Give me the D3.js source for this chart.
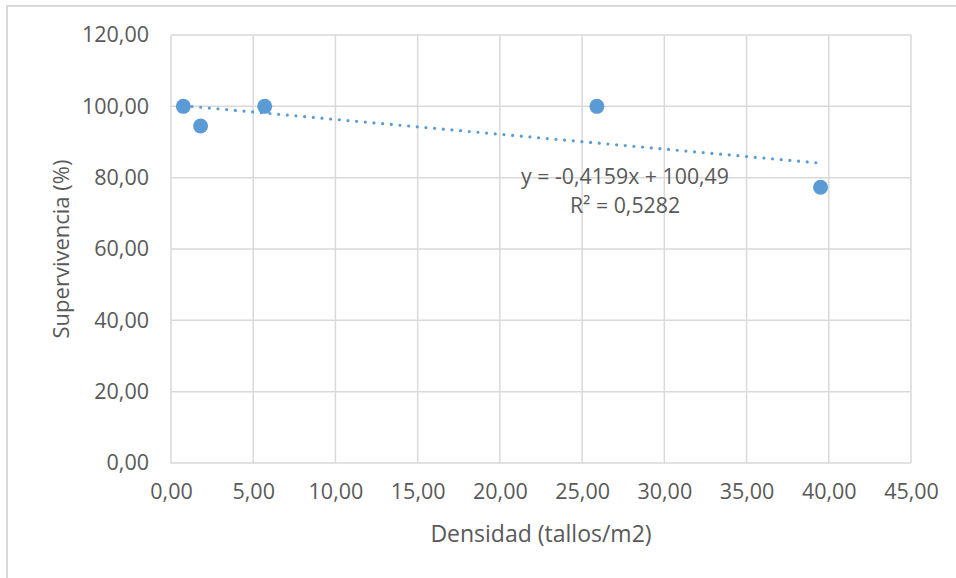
<!DOCTYPE html>
<html><head><meta charset="utf-8">
<script src="https://cdn.jsdelivr.net/npm/d3@7"></script>
<style>body{margin:0;background:#fff}svg{display:block}</style>
</head><body>
<svg id="c" width="956" height="578"></svg>
<script>
const densidad = [0.75, 1.8, 5.7, 25.9, 39.5];
const supervivencia = [100, 94.5, 100, 100, 77.3];
const xTicks = [0,5,10,15,20,25,30,35,40,45];
const yTicks = [0,20,40,60,80,100,120];
const trendSlope = -0.4159, trendIntercept = 100.49;
const eqLabel = "y = -0,4159x + 100,49";
const r2Label = "R² = 0,5282";
const xTitle = "Densidad (tallos/m2)";
const yTitle = "Supervivencia (%)";

const svg = d3.select("#c");
const font = "'Open Sans', sans-serif";
const grey = "#595959", gridC = "#d9d9d9", blue = "#5b9bd5";
const fmt = v => d3.format(".2f")(v).replace(".", ",");

// outer frame
svg.append("path").attr("d","M7,578 V6 H956").attr("fill","none").attr("stroke",gridC).attr("stroke-width",2);

const x = d3.scaleLinear().domain([0,45]).range([171,911]);
const y = d3.scaleLinear().domain([0,120]).range([463,35]);

// gridlines
svg.append("g").selectAll("line").data(yTicks).join("line")
  .attr("x1",x(0)).attr("x2",x(45)).attr("y1",d=>y(d)).attr("y2",d=>y(d))
  .attr("stroke",gridC).attr("stroke-width",1.5);
svg.append("g").selectAll("line").data(xTicks).join("line")
  .attr("y1",y(0)).attr("y2",y(120)).attr("x1",d=>x(d)).attr("x2",d=>x(d))
  .attr("stroke",gridC).attr("stroke-width",1.5);

// axes labels via d3 axes
const xAxis = svg.append("g").attr("transform",`translate(0,${y(0)})`)
  .call(d3.axisBottom(x).tickValues(xTicks).tickFormat(fmt).tickSize(0).tickPadding(21));
const yAxis = svg.append("g").attr("transform",`translate(${x(0)},0)`)
  .call(d3.axisLeft(y).tickValues(yTicks).tickFormat(fmt).tickSize(0).tickPadding(22));
[xAxis,yAxis].forEach(g=>{
  g.select(".domain").remove();
  g.selectAll("text").attr("fill",grey).style("font-family",font).style("font-size","21.5px");
});

// trendline
const xmin = d3.min(densidad), xmax = d3.max(densidad);
svg.append("line")
  .attr("x1",x(xmin)).attr("y1",y(trendSlope*xmin+trendIntercept))
  .attr("x2",x(xmax)).attr("y2",y(trendSlope*xmax+trendIntercept))
  .attr("stroke",blue).attr("stroke-width",3.2).attr("stroke-linecap","round")
  .attr("stroke-dasharray","0 8.7");

// points
svg.append("g").selectAll("circle").data(densidad).join("circle")
  .attr("cx",d=>x(d)).attr("cy",(d,i)=>y(supervivencia[i])).attr("r",7.5).attr("fill",blue);

// equation labels
svg.append("text").attr("x",625).attr("y",184).attr("text-anchor","middle")
  .attr("fill",grey).style("font-family",font).style("font-size","21.3px").text(eqLabel);
svg.append("text").attr("x",625).attr("y",213).attr("text-anchor","middle")
  .attr("fill",grey).style("font-family",font).style("font-size","21.3px").text(r2Label);

// titles
svg.append("text").attr("x",x(22.5)).attr("y",542).attr("text-anchor","middle")
  .attr("fill",grey).style("font-family",font).style("font-size","23px").text(xTitle);
svg.append("text").attr("transform",`translate(69,${y(60)}) rotate(-90)`).attr("text-anchor","middle")
  .attr("fill",grey).style("font-family",font).style("font-size","22px").text(yTitle);
</script>
</body></html>
